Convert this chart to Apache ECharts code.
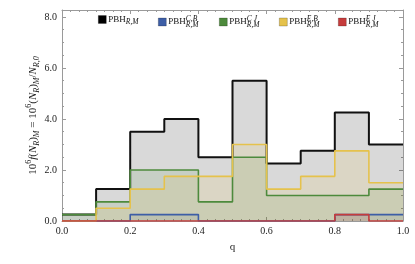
<!DOCTYPE html>
<html><head><meta charset="utf-8">
<script src="https://cdn.jsdelivr.net/npm/echarts@6/dist/echarts.min.js"></script>
<style>html,body{margin:0;padding:0;background:#fff}#c{width:415px;height:264px}</style>
</head><body><div id="c"></div>
<script>
// bin edges (q) and per-bin values (10^6 f(N_R)_M)
const binEdges = [0.0, 0.1, 0.2, 0.3, 0.4, 0.5, 0.6, 0.7, 0.8, 0.9, 1.0];
const totalRM = [0.25, 1.25, 3.5, 4.0, 2.5, 5.5, 2.25, 2.75, 4.25, 3.0];
const cbRM    = [0, 0, 0.25, 0.25, 0, 0, 0, 0, 0.25, 0.25];
const cjRM    = [0.25, 0.75, 2.0, 2.0, 0.75, 2.5, 1.0, 1.0, 1.0, 1.25];
const ebRM    = [0, 0.5, 1.25, 1.75, 1.75, 3.0, 1.25, 1.75, 2.75, 1.5];
const ejRM    = [0, 0, 0, 0, 0, 0, 0, 0, 0.25, 0];
const yTicks = [0, 2, 4, 6, 8];
const xTicks = [0, 0.2, 0.4, 0.6, 0.8, 1.0];
const seriesNames = ['tot', 'cb', 'cj', 'eb', 'ej'];
const legendTexts = {
  tot: '{n|PBH}{sub|R,M}',
  cb: '{n|PBH}{sup|C,B}{sub|R,M}',
  cj: '{n|PBH}{sup|C J}{sub|R,M}',
  eb: '{n|PBH}{sup|E,B}{sub|R,M}',
  ej: '{n|PBH}{sup|E J}{sub|R,M}'
};

function stepData(vals) {
  const pts = [];
  for (let i = 0; i < vals.length; i++) pts.push([binEdges[i], vals[i]]);
  pts.push([binEdges[vals.length], vals[vals.length - 1]]);
  return pts;
}

const styles = {
  tot: {line: '#111111', fill: 'rgba(0,0,0,0.21)', icon: '#000000', w: 2},
  cb:  {line: '#3d5ea6', fill: 'rgba(61,94,166,0.18)', icon: '#3d5ea6', w: 1.6},
  cj:  {line: '#4d8a3c', fill: 'rgba(74,138,58,0.18)', icon: '#4d8a3c', w: 1.6},
  eb:  {line: '#e5c24c', fill: 'rgba(227,193,74,0.2)', icon: '#e5c24c', w: 1.6},
  ej:  {line: '#c63c3c', fill: 'rgba(198,60,60,0.18)', icon: '#c63c3c', w: 1.6}
};
const dataMap = {tot: totalRM, cb: cbRM, cj: cjRM, eb: ebRM, ej: ejRM};

const serif = 'Liberation Serif';
const legendRich = {
  n: {fontFamily: serif, fontSize: 9, color: '#111', lineHeight: 14, verticalAlign: 'middle'},
  sup: {fontFamily: serif, fontSize: 7.5, fontStyle: 'italic', color: '#111', width: 0.01, lineHeight: 14, verticalAlign: 'top'},
  sub: {fontFamily: serif, fontSize: 7.5, fontStyle: 'italic', color: '#111', lineHeight: 14, verticalAlign: 'bottom'}
};
const legendLefts = [98, 158, 219, 279, 338];

const legends = seriesNames.map((k, i) => ({
  data: [{name: k, icon: 'rect', itemStyle: {color: styles[k].icon, borderColor: 'rgba(0,0,0,0.35)', borderWidth: 0.6}}],
  left: legendLefts[i], top: 15, itemWidth: 8, itemHeight: 8, padding: 0,
  formatter: () => legendTexts[k],
  textStyle: {rich: legendRich, padding: [0, 0, 0, -3]}
}));

const axisCommon = {
  axisLine: {show: true, onZero: false, lineStyle: {color: '#9a9a9a', width: 1}},
  axisTick: {show: true, inside: true, length: 4, lineStyle: {color: '#9a9a9a'}},
  minorTick: {show: true, length: 2, lineStyle: {color: '#9a9a9a'}},
  splitLine: {show: false}
};

const option = {
  animation: false,
  grid: {left: 62, right: 12, top: 10, bottom: 43},
  legend: legends,
  xAxis: [
    Object.assign({type: 'value', position: 'bottom', min: 0, max: 1, interval: 0.2,
      axisLabel: {fontFamily: serif, fontSize: 10, color: '#222', margin: 5,
        formatter: v => xTicks.some(t => Math.abs(t - v) < 1e-9) ? v.toFixed(1) : ''},
      name: 'q', nameLocation: 'middle', nameGap: 21, nameMoveOverlap: false,
      nameTextStyle: {fontFamily: serif, fontSize: 11, color: '#222'}}, axisCommon,
      {minorTick: {show: true, splitNumber: 8, length: 2, lineStyle: {color: '#9a9a9a'}}}),
    Object.assign({type: 'value', position: 'top', min: 0, max: 1, interval: 0.2,
      axisLabel: {show: false}}, axisCommon,
      {minorTick: {show: true, splitNumber: 8, length: 2, lineStyle: {color: '#9a9a9a'}}})
  ],
  yAxis: [
    Object.assign({type: 'value', position: 'left', min: 0, max: 8.27, interval: 2,
      axisLabel: {fontFamily: serif, fontSize: 10, color: '#222', margin: 5,
        formatter: v => yTicks.some(t => Math.abs(t - v) < 1e-9) ? v.toFixed(1) : ''},
      name: '{n|10}{sup|6}{i|f}{n|(}{i|N}{sub|R}{n|)}{sub|M}{n| = 10}{sup|6}{n|(}{i|N}{sub|R}{n|)}{sub|M}{n|/}{i|N}{sub|R,0}',
      nameLocation: 'middle', nameGap: 21, nameMoveOverlap: false,
      nameTextStyle: {rich: {
        n: {fontFamily: serif, fontSize: 11, color: '#222', lineHeight: 16, verticalAlign: 'middle'},
        i: {fontFamily: serif, fontSize: 11, fontStyle: 'italic', color: '#222', lineHeight: 16, verticalAlign: 'middle'},
        sup: {fontFamily: serif, fontSize: 8, color: '#222', lineHeight: 16, verticalAlign: 'top'},
        sub: {fontFamily: serif, fontSize: 8, fontStyle: 'italic', color: '#222', lineHeight: 16, verticalAlign: 'bottom'}
      }}}, axisCommon,
      {minorTick: {show: true, splitNumber: 4, length: 2, lineStyle: {color: '#9a9a9a'}}}),
    Object.assign({type: 'value', position: 'right', min: 0, max: 8.27, interval: 2,
      axisLabel: {show: false}}, axisCommon,
      {minorTick: {show: true, splitNumber: 4, length: 2, lineStyle: {color: '#9a9a9a'}}})
  ],
  series: seriesNames.map(k => ({
    name: k, type: 'line', step: 'end', xAxisIndex: 0, yAxisIndex: 0,
    data: stepData(dataMap[k]), symbol: 'none', clip: true,
    lineStyle: {color: styles[k].line, width: styles[k].w},
    itemStyle: {color: styles[k].icon},
    areaStyle: {color: styles[k].fill}
  }))
};

const chart = echarts.init(document.getElementById('c'), null, {renderer: 'canvas'});
chart.setOption(option);
</script>
</body></html>
